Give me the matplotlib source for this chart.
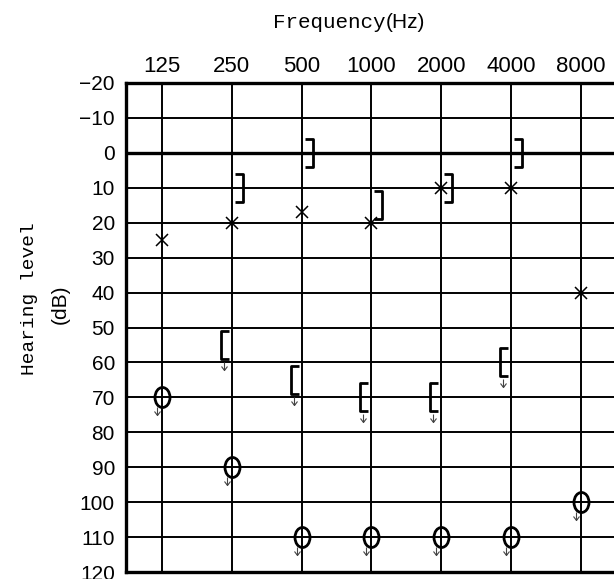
import numpy as np
import matplotlib
matplotlib.use("Agg")
import matplotlib.pyplot as plt
from matplotlib.path import Path

plt.rcParams['font.family'] = 'Liberation Sans'

freqs = ["125", "250", "500", "1000", "2000", "4000", "8000"]
levels = list(range(-20, 130, 10))

# air conduction, "x"
air_x = [25, 20, 17, 20, 10, 10, 40]
# air conduction, no response "O"
air_o = [70, 90, 110, 110, 110, 110, 100]
# masked bone, "]"
bone_r_freqs = ["250", "500", "1000", "2000", "4000"]
bone_r = [10, 0, 15, 10, 0]
# masked bone, no response "["
bone_l_freqs = ["250", "500", "1000", "2000", "4000"]
bone_l = [55, 65, 70, 70, 60]

fig = plt.figure(figsize=(6.14, 5.79), dpi=100)
ax = fig.add_axes([126 / 614, 7 / 579, 1 - 126 / 614, 489 / 579])


def pt(px):
    # pixels -> points
    return px * 72 / fig.dpi


def arrow(dx, y0, y1):
    verts = [(dx, y0), (dx, y1), (dx - 3, y1 + 4), (dx, y1), (dx + 3, y1 + 4)]
    codes = [Path.MOVETO, Path.LINETO, Path.MOVETO, Path.LINETO, Path.LINETO]
    return Path(verts, codes)


# marker shapes, drawn in pixel units around the data point (y up)
close_r = Path([(3, 14), (11, 14), (11, -14), (3, -14)])
close_l = Path([(-3, 14), (-11, 14), (-11, -14), (-3, -14)])
circ = Path.unit_circle()
oval = Path(circ.vertices * [7.5, 10], circ.codes)
arrow_o = arrow(-5, -10, -18)
arrow_l = arrow(-8, -17, -25)

xi = {f: i for i, f in enumerate(freqs)}
x_all = [xi[f] for f in freqs]
x_r = [xi[f] for f in bone_r_freqs]
x_l = [xi[f] for f in bone_l_freqs]

ax.plot(x_all, air_x, ls='none', marker='x', ms=pt(12), mew=1.1, color='k', zorder=5)
ax.plot(x_all, air_o, ls='none', marker=oval, ms=pt(20), mew=2.0, mfc='none', mec='k', zorder=5)
ax.plot(x_all, air_o, ls='none', marker=arrow_o, ms=pt(36), mew=0.8, mfc='none', mec='#444444', zorder=5)
ax.plot(x_r, bone_r, ls='none', marker=close_r, ms=pt(28), mew=2.0, mfc='none', mec='k', zorder=5)
ax.plot(x_l, bone_l, ls='none', marker=close_l, ms=pt(28), mew=2.0, mfc='none', mec='k', zorder=5)
ax.plot(x_l, bone_l, ls='none', marker=arrow_l, ms=pt(50), mew=0.8, mfc='none', mec='#444444', zorder=5)

ax.axhline(0, color='k', lw=2.4, zorder=3)

ax.set_xlim(-36 / 69.8, (614 - 162) / 69.8)
ax.set_ylim(120, -20)
ax.xaxis.tick_top()
ax.set_xticks(range(len(freqs)))
ax.set_xticklabels(freqs, fontsize=16)
ax.set_yticks(levels)
ax.set_yticklabels([str(v).replace('-', '\u2212') for v in levels], fontsize=15)
ax.tick_params(axis='x', length=0, pad=4)
ax.tick_params(axis='y', length=0, pad=8)
ax.grid(True, color='k', lw=1.4)
ax.set_axisbelow(True)
for side in ['left', 'top', 'bottom']:
    ax.spines[side].set_linewidth(2.4)
ax.spines['right'].set_visible(False)

fig.text(386 / 614, 1 - 22 / 579, "Frequency", family='Liberation Mono', fontsize=15,
         ha='right', va='center')
fig.text(386 / 614, 1 - 22 / 579, "(Hz)", fontsize=15, ha='left', va='center')
fig.text(30 / 614, 1 - 299 / 579, "Hearing level", family='Liberation Mono', fontsize=14,
         rotation=90, ha='center', va='center')
fig.text(60 / 614, 1 - 304 / 579, "(dB)", fontsize=15, rotation=90, ha='center', va='center')

fig.savefig("out.png", dpi=100)
